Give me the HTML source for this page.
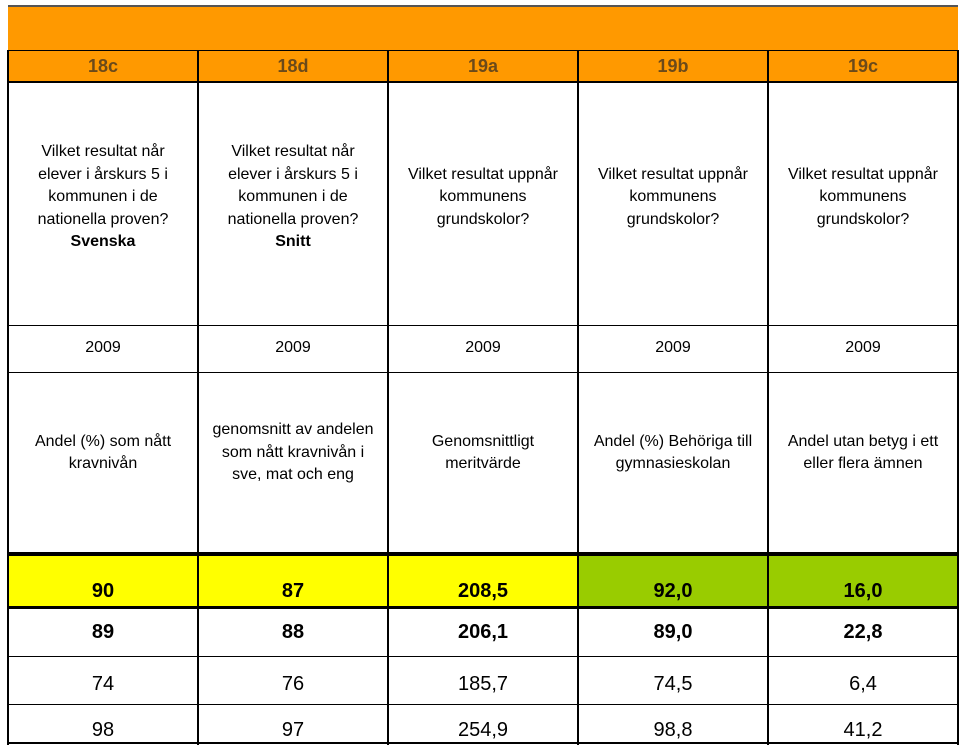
<!DOCTYPE html>
<html><head><meta charset="utf-8"><style>
body{margin:0;width:960px;height:745px;background:#fff;position:relative;overflow:hidden;font-family:"Liberation Sans",sans-serif}
.c{position:absolute;box-sizing:border-box;display:flex;align-items:center;justify-content:center;text-align:center;color:#000}
.c>span{display:block}
.q{font-size:16px;line-height:22.5px}
.v{font-size:20px}
.b{font-weight:bold}
.h{position:absolute;box-sizing:border-box;background:#ff9900;color:#6b4a1a;font-weight:bold;font-size:18px;display:flex;align-items:center;justify-content:center}
.hl{position:absolute;background:#000}
</style></head><body>
<div style="position:absolute;left:8px;top:5px;width:950px;height:45px;background:#ff9900;border-top:2px solid #555;box-sizing:border-box"></div>
<div id="t"></div>
<script>
const codes=["18c","18d","19a","19b","19c"];
const questions=["Vilket resultat når<br>elever i årskurs 5 i<br>kommunen i de<br>nationella proven?<br><b>Svenska</b>","Vilket resultat når<br>elever i årskurs 5 i<br>kommunen i de<br>nationella proven?<br><b>Snitt</b>","Vilket resultat uppnår<br>kommunens<br>grundskolor?","Vilket resultat uppnår<br>kommunens<br>grundskolor?","Vilket resultat uppnår<br>kommunens<br>grundskolor?"];
const years=["2009","2009","2009","2009","2009"];
const descs=["Andel (%) som nått<br>kravnivån","genomsnitt av andelen<br>som nått kravnivån i<br>sve, mat och eng","Genomsnittligt<br>meritvärde","Andel (%) Behöriga till<br>gymnasieskolan","Andel utan betyg i ett<br>eller flera ämnen"];
const row1=["90","87","208,5","92,0","16,0"];
const row2=["89","88","206,1","89,0","22,8"];
const row3=["74","76","185,7","74,5","6,4"];
const row4=["98","97","254,9","98,8","41,2"];
const xs=[8,198,388,578,768,958];
const t=document.getElementById('t');
function cell(cls,x,y,w,h,html,name,bg){
 const d=document.createElement('div');d.className=cls;
 d.style.cssText=`left:${x}px;top:${y}px;width:${w}px;height:${h}px;`+(bg?`background:${bg};`:'');
 d.innerHTML='<span>'+html+'</span>';
 
 
 t.appendChild(d);return d;}
for(let i=0;i<5;i++){
 const x=xs[i],w=xs[i+1]-xs[i];
 const h=document.createElement('div');h.className='h';
 h.style.cssText=`left:${x}px;top:50px;width:${w}px;height:32px`;h.textContent=codes[i];
 
 
 t.appendChild(h);
 cell('c q',x,82,w,243,questions[i],'question-'+codes[i]).style.paddingBottom='12px';
 cell('c q',x,325,w,47,years[i],'year-'+codes[i]);
 cell('c q',x,372,w,180,descs[i],'description-'+codes[i]).style.paddingBottom='18px';
 const c1=cell('c v b',x,553,w,54,row1[i],'value-row1-'+codes[i],i<3?'#ffff00':'#99cc00');c1.style.alignItems='flex-end';c1.style.paddingBottom='4px';
 cell('c v b',x,607,w,50,row2[i],'value-row2-'+codes[i]);
 const c3=cell('c v',x,657,w,48,row3[i],'value-row3-'+codes[i]);c3.style.paddingTop='6px';
 const c4=cell('c v',x,705,w,40,row4[i],'value-row4-'+codes[i]);c4.style.paddingTop='10px';
}
function line(x,y,w,h,name){const d=document.createElement('div');d.className='hl';d.style.cssText=`left:${x}px;top:${y}px;width:${w}px;height:${h}px`;
 
 
 t.appendChild(d);}
xs.forEach((x,i)=>line(x-1,50,2,695,'column-border-'+i));
[[50,1],[81,2],[325,1],[372,1],[552,4],[606,3],[656,1],[704,1],[742,2]].forEach((r,i)=>line(7,r[0],952,r[1],'row-border-'+i));
</script>
</body></html>
